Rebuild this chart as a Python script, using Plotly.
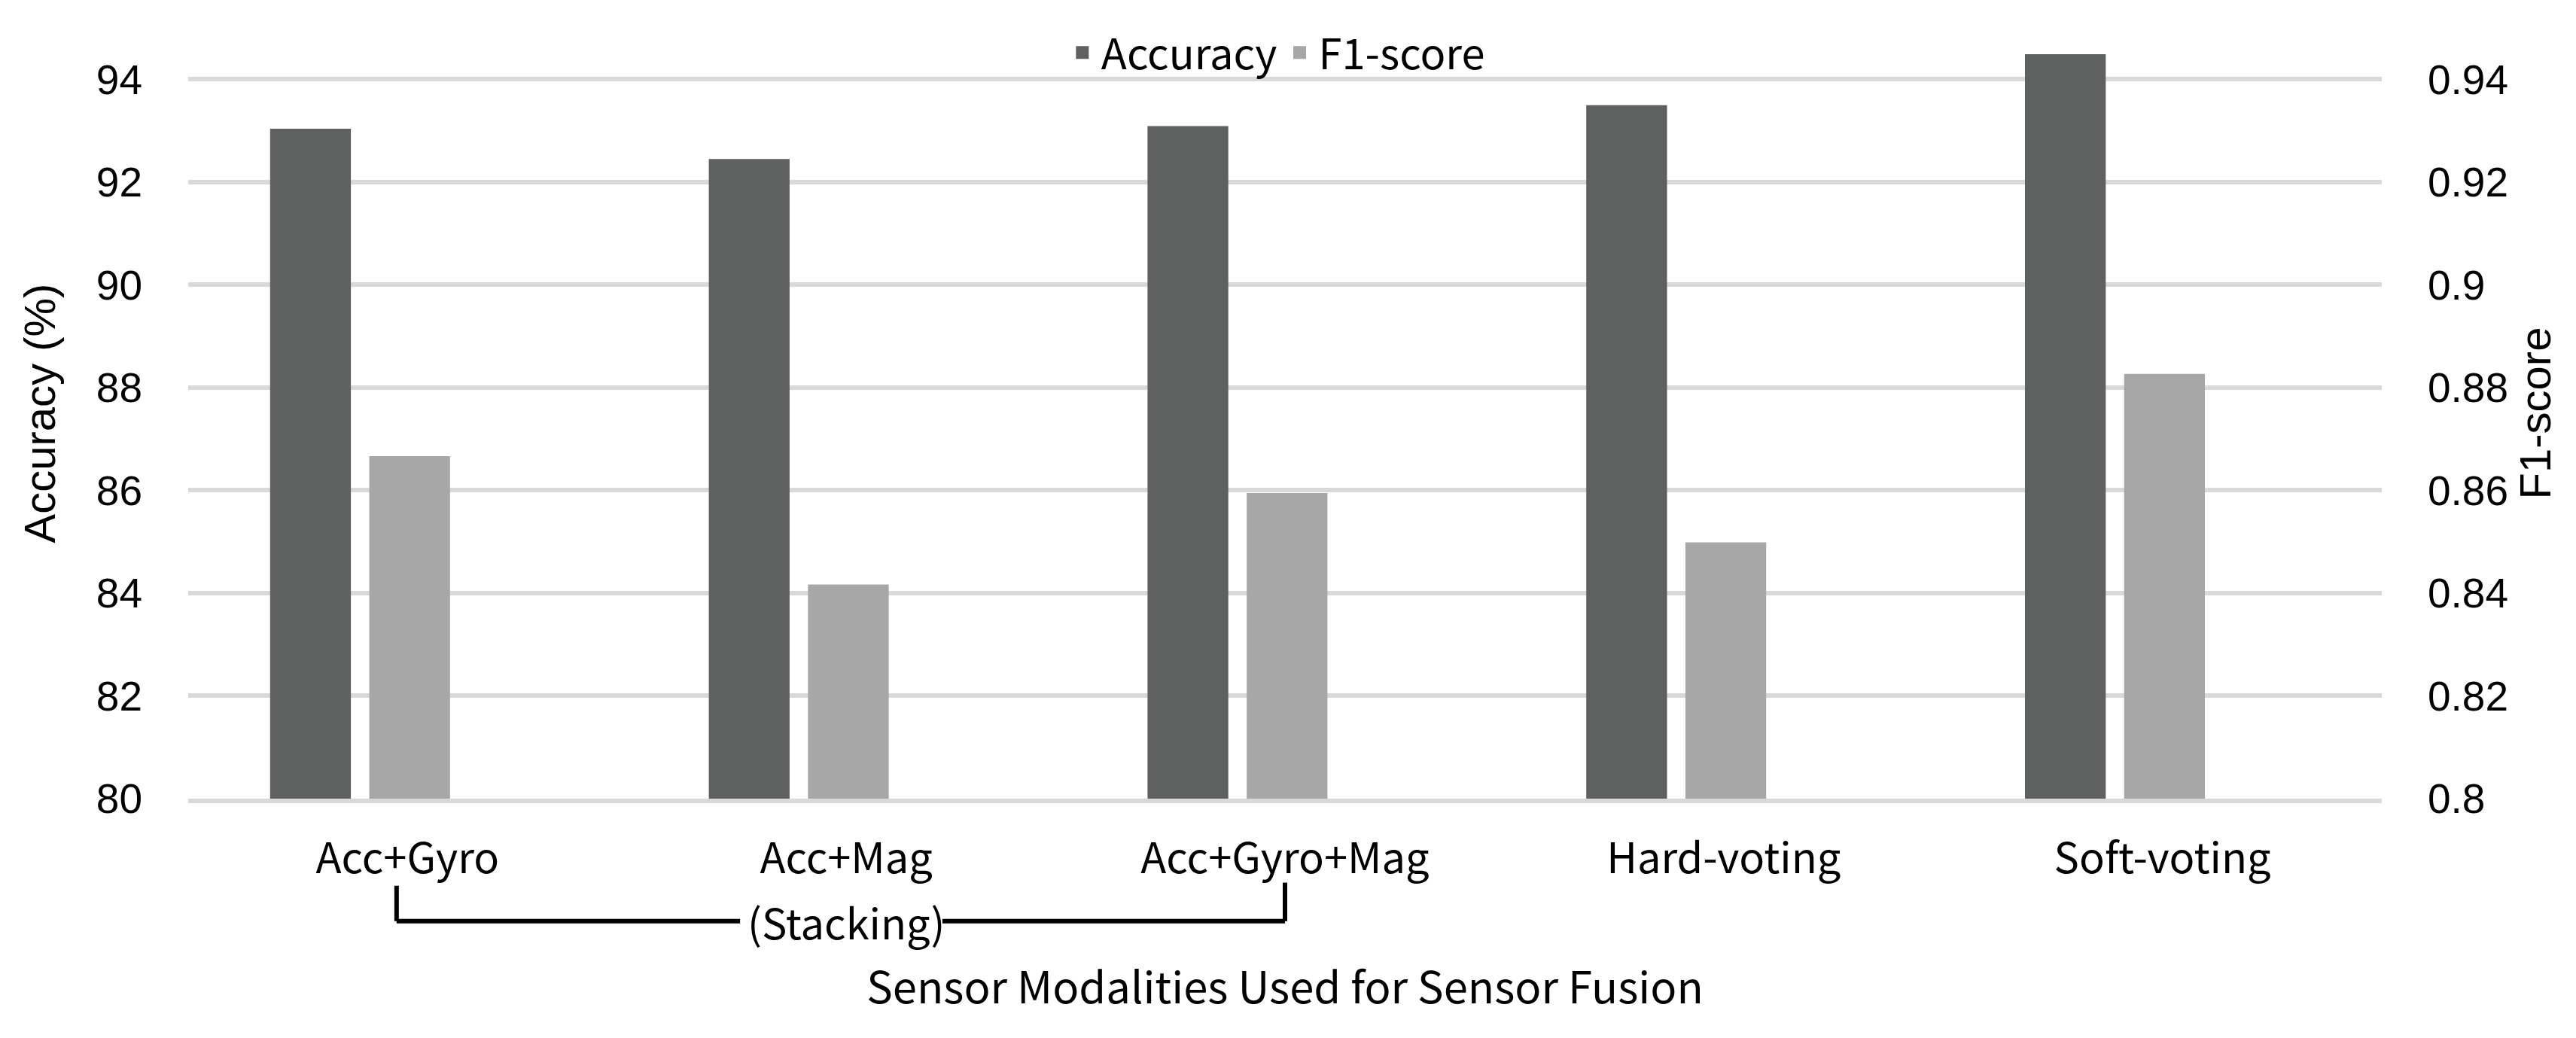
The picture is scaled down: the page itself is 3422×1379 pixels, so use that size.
import plotly.graph_objects as go
from plotly.subplots import make_subplots

categories = ["Acc+Gyro", "Acc+Mag", "Acc+Gyro+Mag", "Hard-voting", "Soft-voting"]
accuracy = [93.00, 92.41, 93.05, 93.46, 94.45]
f1_score = [0.8663, 0.8413, 0.8591, 0.8495, 0.8823]

acc_ticks = [80, 82, 84, 86, 88, 90, 92, 94]
f1_ticks = [0.80, 0.82, 0.84, 0.86, 0.88, 0.90, 0.92, 0.94]
f1_ticktext = ["0.8", "0.82", "0.84", "0.86", "0.88", "0.9", "0.92", "0.94"]

DARK = "#5f6160"
LIGHT = "#a7a7a7"
GRID = "#d9d9d9"
FONT_NUM = "Liberation Sans, Arial, sans-serif"
FONT_KR = "Noto Sans CJK KR, Noto Sans, sans-serif"

fig = make_subplots(specs=[[{"secondary_y": True}]])

fig.add_trace(go.Bar(
    x=categories, y=accuracy, name="Accuracy",
    marker=dict(color=DARK, line=dict(width=5, color=DARK)),
    width=0.1755, offset=-0.309,
), secondary_y=False)

fig.add_trace(go.Bar(
    x=categories, y=f1_score, name="F1-score",
    marker=dict(color=LIGHT, line=dict(width=5, color=LIGHT)),
    width=0.1755, offset=-0.083,
), secondary_y=True)

# page body has an 8px default margin, so the figure is sized to fit inside it
W, H = 3414, 1371
fig.update_layout(
    width=W, height=H,
    margin=dict(l=242, r=258, t=29, b=318, autoexpand=False),
    paper_bgcolor="white", plot_bgcolor="white",
    showlegend=True,
    legend=dict(
        orientation="h", x=0.496, xanchor="center", y=0.968, yanchor="middle",
        font=dict(family=FONT_KR, size=56, color="black"),
        bgcolor="rgba(0,0,0,0)", itemwidth=40, traceorder="normal",
    ),
)

fig.update_xaxes(
    type="category",
    domain=[0, 1],
    range=[-0.5, 4.5],
    showgrid=False, zeroline=False,
    showline=True, linecolor=GRID, linewidth=6,
    ticks="", ticklabelstandoff=26,
    tickfont=dict(family=FONT_KR, size=56, color="black"),
    title=dict(text="Sensor Modalities Used for Sensor Fusion",
               font=dict(family=FONT_KR, size=58, color="black"), standoff=119),
)

fig.update_yaxes(
    range=[80, 95], tickmode="array", tickvals=acc_ticks,
    showgrid=True, gridcolor=GRID, gridwidth=6, zeroline=False,
    showline=False, ticks="", ticklabelstandoff=60,
    tickfont=dict(family=FONT_NUM, size=55, color="black"),
    title=dict(text="Accuracy (%)", font=dict(family=FONT_NUM, size=58, color="black"), standoff=35),
    secondary_y=False,
)

fig.update_yaxes(
    range=[0.80, 0.95], tickmode="array", tickvals=f1_ticks, ticktext=f1_ticktext,
    showgrid=False, zeroline=False, showline=False, ticks="", ticklabelstandoff=60,
    tickfont=dict(family=FONT_NUM, size=55, color="black"),
    title=dict(text="F1-score", font=dict(family=FONT_NUM, size=58, color="black"), standoff=16),
    secondary_y=True,
)

# Bracket grouping the stacking categories
y_h = -0.159
y_top_l = -0.113
y_top_r = -0.109
line_style = dict(color="black", width=6)
fig.add_shape(type="line", xref="x", yref="paper", x0=-0.025, x1=-0.025, y0=y_top_l, y1=y_h, line=line_style)
fig.add_shape(type="line", xref="x", yref="paper", x0=-0.025, x1=0.758, y0=y_h, y1=y_h, line=line_style)
fig.add_shape(type="line", xref="x", yref="paper", x0=1.219, x1=2.0, y0=y_h, y1=y_h, line=line_style)
fig.add_shape(type="line", xref="x", yref="paper", x0=2.0, x1=2.0, y0=y_top_r, y1=y_h, line=line_style)

fig.add_annotation(
    text="(Stacking)", xref="x", yref="paper", x=1, y=y_h,
    xanchor="center", yanchor="middle", showarrow=False,
    font=dict(family=FONT_KR, size=56, color="black"),
)

fig.write_html("out.html")
